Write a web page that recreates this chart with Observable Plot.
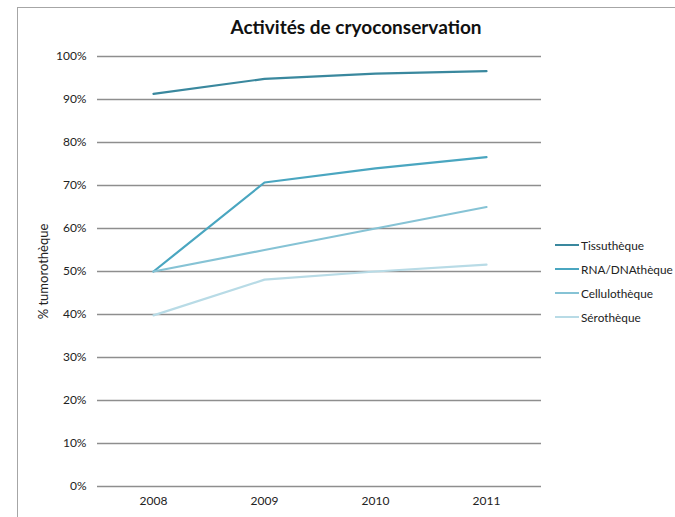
<!DOCTYPE html>
<html>
<head>
<meta charset="utf-8">
<script src="https://cdn.jsdelivr.net/npm/d3@7"></script>
<script src="https://cdn.jsdelivr.net/npm/@observablehq/plot@0.6"></script>
<style>
  html, body { margin: 0; padding: 0; background: #fff; }
  #wrap { position: relative; width: 675px; height: 517px; overflow: hidden; font-family: Lato, "Open Sans", sans-serif; }
  #frame { position: absolute; left: 17px; top: 7px; width: 700px; height: 560px; border: 1.5px solid #a6a6a6; box-sizing: border-box; }
  #title { position: absolute; left: 0; width: 712px; top: 15px; text-align: center; font-size: 19px; font-weight: bold; color: #111; }
  #chart { position: absolute; left: 0; top: 0; }
  #legend { position: absolute; left: 555px; top: 233px; font-size: 11.8px; color: #222; white-space: nowrap; }
  #legend .row { display: flex; align-items: center; height: 24px; }
  #legend .sw { width: 24px; height: 2px; margin-right: 2px; }
</style>
</head>
<body>
<div id="wrap">
  <div id="frame"></div>
  <div id="chart"></div>
  <div id="title">Activités de cryoconservation</div>
  <div id="legend"></div>
</div>
<script>
// Years on the x axis
const years = ["2008", "2009", "2010", "2011"];

// Share of the tumour bank, per activity and year
const tissutheque = [0.913, 0.948, 0.960, 0.966];
const rnaDnatheque = [0.500, 0.707, 0.740, 0.766];
const cellulotheque = [0.500, 0.550, 0.600, 0.650];
const serotheque = [0.398, 0.481, 0.500, 0.516];

// Series names and their colours
const seriesNames = ["Tissuthèque", "RNA/DNAthèque", "Cellulothèque", "Sérothèque"];
const seriesColors = ["#3a889e", "#4aa6c0", "#86c3d5", "#b8dbe6"];

// Y axis ticks
const yTicks = [0, 0.1, 0.2, 0.3, 0.4, 0.5, 0.6, 0.7, 0.8, 0.9, 1.0];
const yTickLabels = ["0%", "10%", "20%", "30%", "40%", "50%", "60%", "70%", "80%", "90%", "100%"];

const seriesValues = [tissutheque, rnaDnatheque, cellulotheque, serotheque];
const rows = seriesNames.flatMap((name, i) =>
  years.map((year, j) => ({ series: name, year, value: seriesValues[i][j] }))
);

const chart = Plot.plot({
  width: 675,
  height: 517,
  marginLeft: 97,
  marginRight: 134,
  marginTop: 56,
  marginBottom: 31,
  style: { fontFamily: "Lato, 'Open Sans', sans-serif", fontSize: "12px", color: "#222", background: "transparent" },
  x: { type: "point", domain: years, padding: 0.5, label: null },
  y: { domain: [0, 1], label: null },
  color: { domain: seriesNames, range: seriesColors },
  marks: [
    Plot.ruleY(yTicks, { stroke: "#8e8e8e", strokeWidth: 1.6, strokeOpacity: 1 }),
    Plot.axisY(yTicks, {
      tickSize: 0,
      tickPadding: 11,
      tickFormat: (d, i) => yTickLabels[i],
      fontSize: 12,
      label: null
    }),
    Plot.axisY({
      ticks: [],
      label: "% tumorothèque",
      labelAnchor: "center",
      labelArrow: "none",
      labelOffset: 59,
      fontSize: 13
    }),
    Plot.axisX(years, { tickSize: 0, tickPadding: 10, fontSize: 12, label: null }),
    Plot.line(rows, { x: "year", y: "value", z: "series", stroke: "series", strokeWidth: 2.2 })
  ]
});
document.getElementById("chart").appendChild(chart);

// Legend beside the plot
const legend = document.getElementById("legend");
seriesNames.forEach((name, i) => {
  const row = document.createElement("div");
  row.className = "row";
  const sw = document.createElement("span");
  sw.className = "sw";
  sw.style.background = seriesColors[i];
  const label = document.createElement("span");
  label.textContent = name;
  row.appendChild(sw);
  row.appendChild(label);
  legend.appendChild(row);
});
</script>
</body>
</html>
